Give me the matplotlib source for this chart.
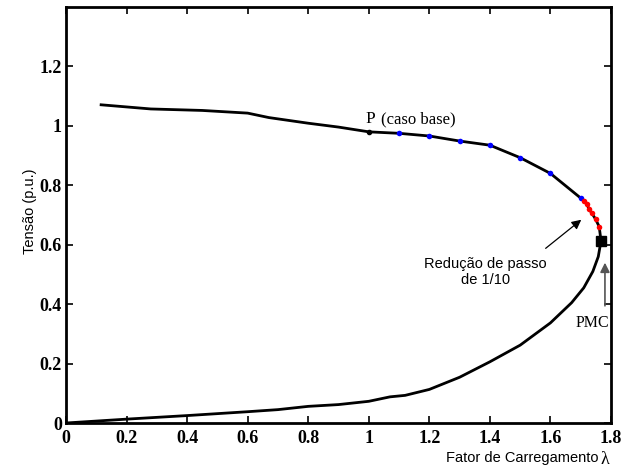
import numpy as np
import matplotlib
matplotlib.use("Agg")
import matplotlib.pyplot as plt

# Curva PV: ramo superior (estavel) e ramo inferior
lam_sup = [0.116, 0.28, 0.45, 0.60, 0.67, 0.80, 0.90, 1.00, 1.10, 1.20, 1.30, 1.40,
           1.50, 1.60, 1.70, 1.712, 1.72, 1.728, 1.737, 1.749, 1.761, 1.767]
v_sup = [1.071, 1.057, 1.052, 1.043, 1.028, 1.009, 0.996, 0.980, 0.975, 0.966, 0.949, 0.935,
         0.893, 0.840, 0.757, 0.748, 0.737, 0.719, 0.706, 0.686, 0.661, 0.613]

lam_inf = [1.767, 1.758, 1.74, 1.71, 1.67, 1.60, 1.50, 1.40, 1.30, 1.20, 1.12, 1.07,
           1.00, 0.90, 0.80, 0.70, 0.60, 0.40, 0.20, 0.0]
v_inf = [0.613, 0.560, 0.510, 0.455, 0.405, 0.337, 0.262, 0.206, 0.154, 0.113, 0.093, 0.088,
         0.073, 0.062, 0.056, 0.045, 0.038, 0.025, 0.013, 0.0]

# pontos do metodo da continuacao
lam_azul = [1.1, 1.2, 1.3, 1.4, 1.5, 1.6, 1.7]
v_azul = [0.975, 0.966, 0.949, 0.935, 0.893, 0.840, 0.757]
lam_verm = [1.712, 1.72, 1.728, 1.737, 1.749, 1.761]
v_verm = [0.748, 0.737, 0.719, 0.706, 0.686, 0.661]
p_base = (1.0, 0.980)
pmc = (1.767, 0.613)

xticks = [0, 0.2, 0.4, 0.6, 0.8, 1.0, 1.2, 1.4, 1.6, 1.8]
xlabels = ['0', '0.2', '0.4', '0.6', '0.8', '1', '1.2', '1.4', '1.6', '1.8']
yticks = [0, 0.2, 0.4, 0.6, 0.8, 1.0, 1.2]
ylabels = ['0', '0.2', '0.4', '0.6', '0.8', '1', '1.2']

fig = plt.figure(figsize=(6.25, 4.7), dpi=100)
ax = fig.add_axes([0.1056, 0.1, 0.872, 0.885])

ax.plot(lam_sup, v_sup, color='black', lw=2)
ax.plot(lam_inf, v_inf, color='black', lw=2)
ax.plot(lam_azul, v_azul, 'o', color='blue', ms=4, mec='none')
ax.plot(lam_verm, v_verm, 'o', color='red', ms=4, mec='none')
ax.plot(*p_base, 'o', color='black', ms=3)
ax.plot(*pmc, 's', color='black', ms=7)

ax.set_xlim(0, 1.8)
ax.set_ylim(0, 1.4)
ax.set_xticks(xticks)
ax.set_xticklabels(xlabels)
ax.set_yticks(yticks)
ax.set_yticklabels(ylabels)
ax.tick_params(direction='in', length=5, width=1.2, top=True, right=True)
ax.tick_params(axis='x', pad=5)
ax.tick_params(axis='y', pad=3)
for lbl in ax.get_xticklabels() + ax.get_yticklabels():
    lbl.set_fontfamily('Liberation Serif')
    lbl.set_fontweight('bold')
    lbl.set_fontsize(13)
for s in ax.spines.values():
    s.set_linewidth(2)

ax.text(0.99, 0.995, 'P', family='Liberation Serif', fontsize=12.5, ha='left', va='bottom')
ax.text(1.04, 0.995, '(caso base)', family='Liberation Serif', fontsize=12,
        ha='left', va='bottom')
ax.annotate('', xy=(1.709, 0.69), xytext=(1.577, 0.582),
            arrowprops=dict(arrowstyle='-|>', color='black', lw=0.9, mutation_scale=14))
ax.text(1.385, 0.558, 'Redução de passo\nde 1/10', family='Liberation Sans', fontsize=10.5,
        ha='center', va='top', linespacing=1.15)
ax.annotate('', xy=(1.78, 0.549), xytext=(1.78, 0.385),
            arrowprops=dict(arrowstyle='-|>', color='#555555', lw=1.2, mutation_scale=14))
ax.text(1.737, 0.335, 'PMC', family='Liberation Serif', fontsize=11.5, ha='center', va='center')

fig.text(0.048, 0.55, 'Tensão (p.u.)', family='Liberation Sans', fontsize=10.5,
         rotation=90, ha='center', va='center')
fig.text(0.958, 0.025, 'Fator de Carregamento', family='Liberation Sans', fontsize=10.5,
         ha='right', va='center')
fig.text(0.961, 0.022, 'λ', family='Liberation Serif', fontsize=13,
         ha='left', va='center')

fig.savefig('out.png', dpi=100)
